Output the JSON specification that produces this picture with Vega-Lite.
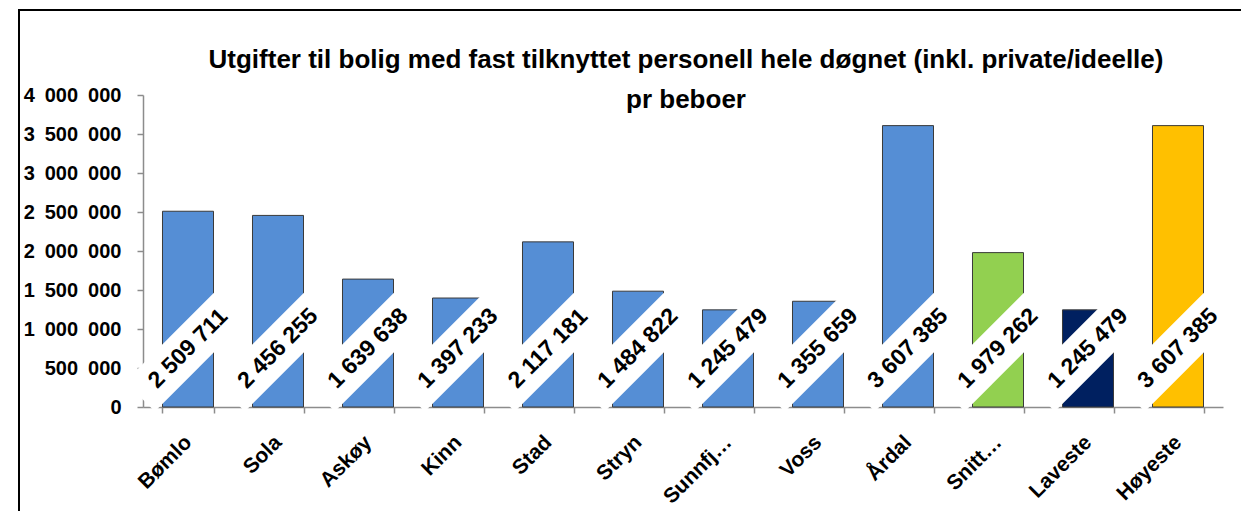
{
  "$schema": "https://vega.github.io/schema/vega-lite/v6.json",
  "width": 1230,
  "height": 502,
  "padding": {"left": 19, "top": 10, "right": 0, "bottom": 0},
  "autosize": {"type": "none"},
  "background": "white",
  "config": {
    "view": {"stroke": "black", "strokeWidth": 2},
    "locale": {"number": {"decimal": ",", "thousands": " ", "grouping": [3], "currency": ["", " kr"]}},
    "font": "Liberation Sans"
  },
  "title": {
    "text": ["Utgifter til bolig med fast tilknyttet personell hele døgnet (inkl. private/ideelle)", "pr beboer"],
    "font": "Liberation Sans",
    "fontSize": 26,
    "fontWeight": "bold",
    "color": "black",
    "anchor": "middle",
    "lineHeight": 40,
    "dx": 52,
    "offset": -103
  },
  "data": {
    "values": [
      {"kommune": "Bømlo", "verdi": 2509711, "gruppe": "Kommune"},
      {"kommune": "Sola", "verdi": 2456255, "gruppe": "Kommune"},
      {"kommune": "Askøy", "verdi": 1639638, "gruppe": "Kommune"},
      {"kommune": "Kinn", "verdi": 1397233, "gruppe": "Kommune"},
      {"kommune": "Stad", "verdi": 2117181, "gruppe": "Kommune"},
      {"kommune": "Stryn", "verdi": 1484822, "gruppe": "Kommune"},
      {"kommune": "Sunnfj…", "verdi": 1245479, "gruppe": "Kommune"},
      {"kommune": "Voss", "verdi": 1355659, "gruppe": "Kommune"},
      {"kommune": "Årdal", "verdi": 3607385, "gruppe": "Kommune"},
      {"kommune": "Snitt…", "verdi": 1979262, "gruppe": "Snitt"},
      {"kommune": "Laveste", "verdi": 1245479, "gruppe": "Laveste"},
      {"kommune": "Høyeste", "verdi": 3607385, "gruppe": "Høyeste"}
    ]
  },
  "encoding": {
    "x": {
      "field": "kommune",
      "type": "nominal",
      "sort": null,
      "scale": {"range": [124, 1204], "paddingInner": 0.433, "paddingOuter": 0.2165},
      "axis": {
        "title": null,
        "orient": "bottom",
        "offset": -105,
        "labelAngle": -45,
        "labelAlign": "right",
        "labelBaseline": "middle",
        "labelFont": "Liberation Sans",
        "labelFontWeight": "bold",
        "labelFontSize": 21,
        "labelColor": "black",
        "labelPadding": 26,
        "labelLimit": 200,
        "tickBand": "extent",
        "tickSize": 6,
        "tickColor": "#8C8C8C",
        "domainColor": "#8C8C8C",
        "tickWidth": 1.5,
        "domainWidth": 1.5
      }
    }
  },
  "layer": [
    {
      "mark": {"type": "bar", "stroke": "#3A3A3A", "strokeWidth": 1},
      "encoding": {
        "y": {
          "field": "verdi",
          "type": "quantitative",
          "scale": {"domain": [0, 4000000], "range": [397, 85], "nice": false},
          "axis": {
            "title": null,
            "offset": -124,
            "values": [0, 500000, 1000000, 1500000, 2000000, 2500000, 3000000, 3500000, 4000000],
            "format": ",d",
            "labelExpr": "replace(replace(datum.label, ' ', '\u2002'), ' ', '\u2002')",
            "labelFont": "Liberation Sans",
            "labelFontWeight": "bold",
            "labelFontSize": 20,
            "labelColor": "black",
            "labelPadding": 16,
            "tickSize": 6,
            "tickColor": "#8C8C8C",
            "domainColor": "#8C8C8C",
            "tickWidth": 1.5,
            "domainWidth": 1.5,
            "grid": false
          }
        },
        "color": {
          "field": "gruppe",
          "type": "nominal",
          "scale": {"domain": ["Kommune", "Snitt", "Laveste", "Høyeste"], "range": ["#558ED5", "#92D050", "#002060", "#FFC000"]},
          "legend": null
        }
      }
    },
    {
      "mark": {"type": "point", "shape": "M-1,-0.31L1,-0.31L1,0.31L-1,0.31Z", "size": 18496, "angle": -45, "filled": true, "fill": "white", "opacity": 1, "strokeWidth": 0},
      "encoding": {
        "y": {"datum": 750000, "type": "quantitative"}
      }
    },
    {
      "mark": {"type": "text", "angle": -45, "align": "center", "baseline": "middle", "font": "Liberation Sans", "fontWeight": "bold", "fontSize": 23, "color": "black"},
      "encoding": {
        "y": {"datum": 750000, "type": "quantitative"},
        "text": {"field": "verdi", "type": "quantitative", "format": ",d"}
      }
    }
  ]
}
